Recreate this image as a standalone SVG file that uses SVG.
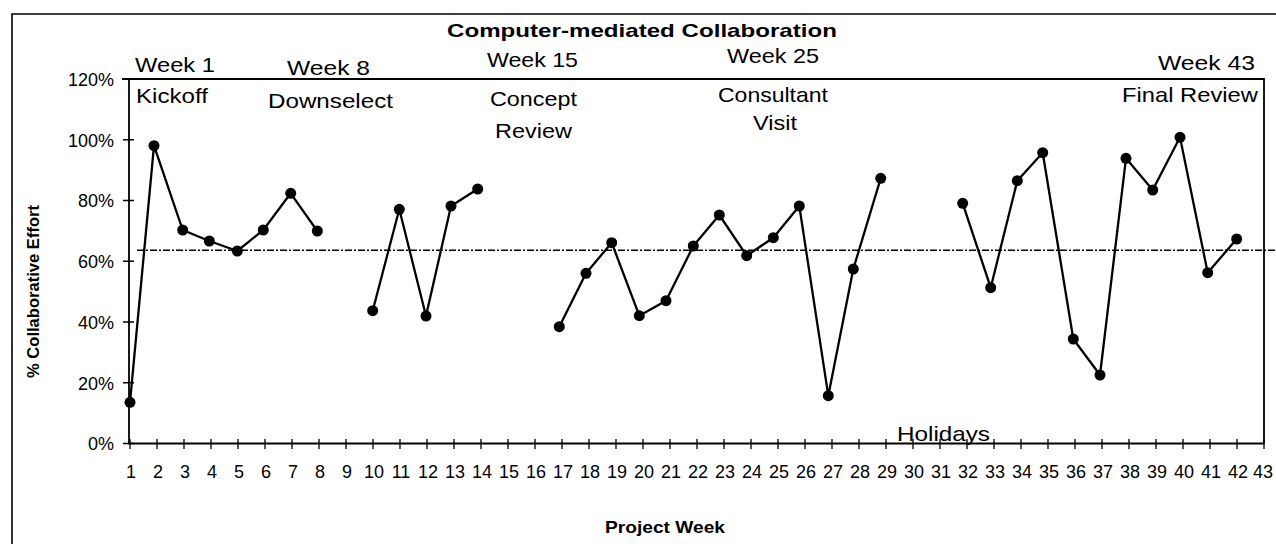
<svg xmlns="http://www.w3.org/2000/svg" width="1276" height="544" viewBox="0 0 1276 544">
<style>
.frame{fill:none;stroke:#000;stroke-width:1.6}
.axis{fill:none;stroke:#000;stroke-width:1.8}
.tick{stroke:#000;stroke-width:1.3}
.mean{fill:none;stroke:#000;stroke-width:1.6;stroke-dasharray:7 2 2 2}
.series{fill:none;stroke:#000;stroke-width:2.3;stroke-linejoin:round}
.dot{fill:#000}
.lbl{font-family:"Liberation Sans",Arial,sans-serif;fill:#000}
.ty{font-size:18px;text-anchor:end}
.tx{font-size:18px;text-anchor:middle}
.ann{font-size:21px}
.bold{font-weight:bold}
</style>
<rect width="1276" height="544" fill="#fff"/>
<g id="frame">
<path class="frame" d="M12 544 V14 H1276"/>
</g>
<g id="title">
<text class="lbl bold" x="447" y="37" font-size="19" textLength="390" lengthAdjust="spacingAndGlyphs">Computer-mediated Collaboration</text>
</g>
<g id="plot-area">
<path class="axis" d="M122 79 H1264 V443.5 M129 79 V443.5 H1264"/>
<g id="y-ticks">
<path class="tick" d="M123 79 H134 M123 139.75 H134 M123 200.5 H134 M123 261.25 H134 M123 322 H134 M123 382.75 H134 M123 443.5 H134"/>
</g>
<g id="x-ticks">
<path class="tick" d="M130 439 V449 M157 439 V449 M184 439 V449 M211 439 V449 M238 439 V449 M265 439 V449 M292 439 V449 M319 439 V449 M346 439 V449 M373 439 V449 M400 439 V449 M427 439 V449 M454 439 V449 M481 439 V449 M508 439 V449 M535 439 V449 M562 439 V449 M589 439 V449 M616 439 V449 M643 439 V449 M670 439 V449 M697 439 V449 M724 439 V449 M751 439 V449 M778 439 V449 M805 439 V449 M832 439 V449 M859 439 V449 M886 439 V449 M913 439 V449 M940 439 V449 M967 439 V449 M994 439 V449 M1021 439 V449 M1048 439 V449 M1075 439 V449 M1102 439 V449 M1129 439 V449 M1156 439 V449 M1183 439 V449 M1210 439 V449 M1237 439 V449 M1264 439 V449"/>
</g>
</g>
<g id="y-labels" class="lbl ty">
<text x="114" y="86">120%</text>
<text x="114" y="146.5">100%</text>
<text x="114" y="207">80%</text>
<text x="114" y="268">60%</text>
<text x="114" y="328.5">40%</text>
<text x="114" y="389.5">20%</text>
<text x="114" y="450">0%</text>
</g>
<g id="x-labels" class="lbl tx">
<text x="131" y="478">1</text><text x="158" y="478">2</text><text x="185" y="478">3</text><text x="212" y="478">4</text><text x="239" y="478">5</text><text x="266" y="478">6</text><text x="293" y="478">7</text><text x="320" y="478">8</text><text x="347" y="478">9</text><text x="374" y="478">10</text><text x="401" y="478">11</text><text x="428" y="478">12</text><text x="455" y="478">13</text><text x="482" y="478">14</text><text x="509" y="478">15</text><text x="536" y="478">16</text><text x="563" y="478">17</text><text x="590" y="478">18</text><text x="617" y="478">19</text><text x="644" y="478">20</text><text x="671" y="478">21</text><text x="698" y="478">22</text><text x="725" y="478">23</text><text x="752" y="478">24</text><text x="779" y="478">25</text><text x="806" y="478">26</text><text x="833" y="478">27</text><text x="860" y="478">28</text><text x="887" y="478">29</text><text x="914" y="478">30</text><text x="941" y="478">31</text><text x="968" y="478">32</text><text x="995" y="478">33</text><text x="1022" y="478">34</text><text x="1049" y="478">35</text><text x="1076" y="478">36</text><text x="1103" y="478">37</text><text x="1130" y="478">38</text><text x="1157" y="478">39</text><text x="1184" y="478">40</text><text x="1211" y="478">41</text><text x="1238" y="478">42</text><text x="1263" y="478">43</text>
</g>
<g id="axis-titles">
<text class="lbl bold" x="605" y="533" font-size="17" textLength="120" lengthAdjust="spacingAndGlyphs">Project Week</text>
<text class="lbl bold" transform="translate(39 378) rotate(-90)" x="0" y="0" font-size="16" textLength="173" lengthAdjust="spacingAndGlyphs">% Collaborative Effort</text>
</g>
<g id="mean-line">
<path class="mean" d="M137 250.3 H1276"/>
</g>
<g id="connectors">
<polyline class="series" points="130,402.3 154,145.7 182.7,230 209.3,241 237.3,251 263.3,230 290.7,193.3 317.3,231"/>
<polyline class="series" points="372.7,310.7 399.3,209.3 426,316 451,206 477.7,189"/>
<polyline class="series" points="559.3,326.7 586,273.3 611.7,242.7 639.3,315.7 666,300.7 693.3,246 719.3,215 746.7,255.7 773.3,237.7 799.3,206 828.3,395.7 853.3,269 880.7,178.3"/>
<polyline class="series" points="962.7,203.3 990.7,287.7 1017.3,180.7 1042.7,152.7 1073.3,339 1100,375 1126,158.3 1152.7,190 1180,137.3 1207.7,272.7 1236.7,239"/>
</g>
<g id="points" class="dot">
<circle id="w1" cx="130" cy="402.3" r="5.5"/>
<circle id="w2" cx="154" cy="145.7" r="5.5"/>
<circle id="w3" cx="182.7" cy="230" r="5.5"/>
<circle id="w4" cx="209.3" cy="241" r="5.5"/>
<circle id="w5" cx="237.3" cy="251" r="5.5"/>
<circle id="w6" cx="263.3" cy="230" r="5.5"/>
<circle id="w7" cx="290.7" cy="193.3" r="5.5"/>
<circle id="w8" cx="317.3" cy="231" r="5.5"/>
<circle id="w10" cx="372.7" cy="310.7" r="5.5"/>
<circle id="w11" cx="399.3" cy="209.3" r="5.5"/>
<circle id="w12" cx="426" cy="316" r="5.5"/>
<circle id="w13" cx="451" cy="206" r="5.5"/>
<circle id="w14" cx="477.7" cy="189" r="5.5"/>
<circle id="w17" cx="559.3" cy="326.7" r="5.5"/>
<circle id="w18" cx="586" cy="273.3" r="5.5"/>
<circle id="w19" cx="611.7" cy="242.7" r="5.5"/>
<circle id="w20" cx="639.3" cy="315.7" r="5.5"/>
<circle id="w21" cx="666" cy="300.7" r="5.5"/>
<circle id="w22" cx="693.3" cy="246" r="5.5"/>
<circle id="w23" cx="719.3" cy="215" r="5.5"/>
<circle id="w24" cx="746.7" cy="255.7" r="5.5"/>
<circle id="w25" cx="773.3" cy="237.7" r="5.5"/>
<circle id="w26" cx="799.3" cy="206" r="5.5"/>
<circle id="w27" cx="828.3" cy="395.7" r="5.5"/>
<circle id="w28" cx="853.3" cy="269" r="5.5"/>
<circle id="w29" cx="880.7" cy="178.3" r="5.5"/>
<circle id="w32" cx="962.7" cy="203.3" r="5.5"/>
<circle id="w33" cx="990.7" cy="287.7" r="5.5"/>
<circle id="w34" cx="1017.3" cy="180.7" r="5.5"/>
<circle id="w35" cx="1042.7" cy="152.7" r="5.5"/>
<circle id="w36" cx="1073.3" cy="339" r="5.5"/>
<circle id="w37" cx="1100" cy="375" r="5.5"/>
<circle id="w38" cx="1126" cy="158.3" r="5.5"/>
<circle id="w39" cx="1152.7" cy="190" r="5.5"/>
<circle id="w40" cx="1180" cy="137.3" r="5.5"/>
<circle id="w41" cx="1207.7" cy="272.7" r="5.5"/>
<circle id="w42" cx="1236.7" cy="239" r="5.5"/>
</g>
<g id="annotations" class="lbl ann">
<text x="135" y="71.5" textLength="80" lengthAdjust="spacingAndGlyphs">Week 1</text>
<text x="136" y="103" textLength="72" lengthAdjust="spacingAndGlyphs">Kickoff</text>
<text x="287" y="75" textLength="83" lengthAdjust="spacingAndGlyphs">Week 8</text>
<text x="268" y="108" textLength="125" lengthAdjust="spacingAndGlyphs">Downselect</text>
<text x="487" y="66.5" textLength="91" lengthAdjust="spacingAndGlyphs">Week 15</text>
<text x="490" y="106" textLength="87" lengthAdjust="spacingAndGlyphs">Concept</text>
<text x="495" y="138" textLength="77" lengthAdjust="spacingAndGlyphs">Review</text>
<text x="727" y="63" textLength="92" lengthAdjust="spacingAndGlyphs">Week 25</text>
<text x="718" y="101.5" textLength="110" lengthAdjust="spacingAndGlyphs">Consultant</text>
<text x="753" y="130" textLength="44" lengthAdjust="spacingAndGlyphs">Visit</text>
<text x="1158" y="70" textLength="97" lengthAdjust="spacingAndGlyphs">Week 43</text>
<text x="1122" y="101.5" textLength="136" lengthAdjust="spacingAndGlyphs">Final Review</text>
<text x="897" y="441" textLength="93" lengthAdjust="spacingAndGlyphs">Holidays</text>
</g>
</svg>
